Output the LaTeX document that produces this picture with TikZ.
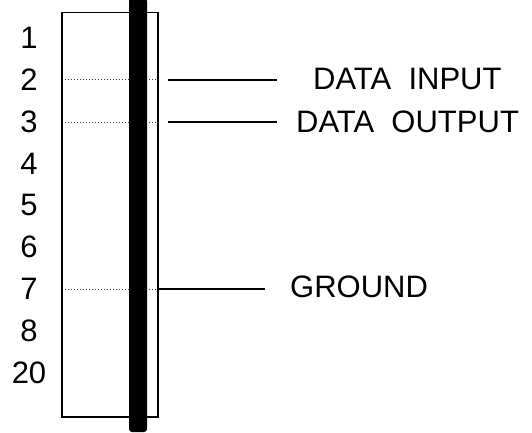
\documentclass[tikz,border=0pt]{standalone}
\usepackage{fontspec}
\setmainfont{Liberation Sans}
\begin{document}
\begin{tikzpicture}[x=1pt,y=-1pt,
  lbl/.style={font=\fontsize{31}{34}\selectfont,inner sep=0pt},
  numlbl/.style={lbl,anchor=base},
  sigline/.style={line width=1.4pt},
  dotline/.style={line width=1pt,dash pattern=on 1pt off 2pt,gray!40!black}]
\useasboundingbox (0,0) rectangle (532,433);
\coordinate (boxtl) at (62,12.5);
\coordinate (boxbr) at (158,417);
\draw[line width=1.4pt] (boxtl) rectangle (boxbr);
% dotted rows
\coordinate (d2a) at (65,80); \coordinate (d2b) at (160,80);
\coordinate (d3a) at (65,122); \coordinate (d3b) at (160,122);
\coordinate (d7a) at (65,289); \coordinate (d7b) at (158,289);
\draw[dotline] (d2a) -- (d2b);
\draw[dotline] (d3a) -- (d3b);
\draw[dotline] (d7a) -- (d7b);
% black bar
\fill[rounded corners=3pt] (129,-2) rectangle (147,432);
% signal lines
\coordinate (s2a) at (168,80); \coordinate (s2b) at (277,80);
\coordinate (s3a) at (168,122); \coordinate (s3b) at (277,122);
\coordinate (s7a) at (158,289); \coordinate (s7b) at (265,289);
\draw[sigline] (s2a) -- (s2b);
\draw[sigline] (s3a) -- (s3b);
\draw[sigline] (s7a) -- (s7b);
% labels
\node[lbl,anchor=base west] (din) at (313,90) {DATA\ \ INPUT};
\node[lbl,anchor=base west] (dout) at (296,132) {DATA\ \ OUTPUT};
\node[lbl,anchor=base west] (gnd) at (290,297.5) {GROUND};
% pin numbers
\node[numlbl] (n1) at (29,49) {1};
\node[numlbl] (n2) at (29,90.5) {2};
\node[numlbl] (n3) at (29,132) {3};
\node[numlbl] (n4) at (29,174) {4};
\node[numlbl] (n5) at (29,215) {5};
\node[numlbl] (n6) at (29,257) {6};
\node[numlbl] (n7) at (29,299) {7};
\node[numlbl] (n8) at (29,341) {8};
\node[numlbl] (n20) at (29,383) {20};
\end{tikzpicture}
\end{document}
